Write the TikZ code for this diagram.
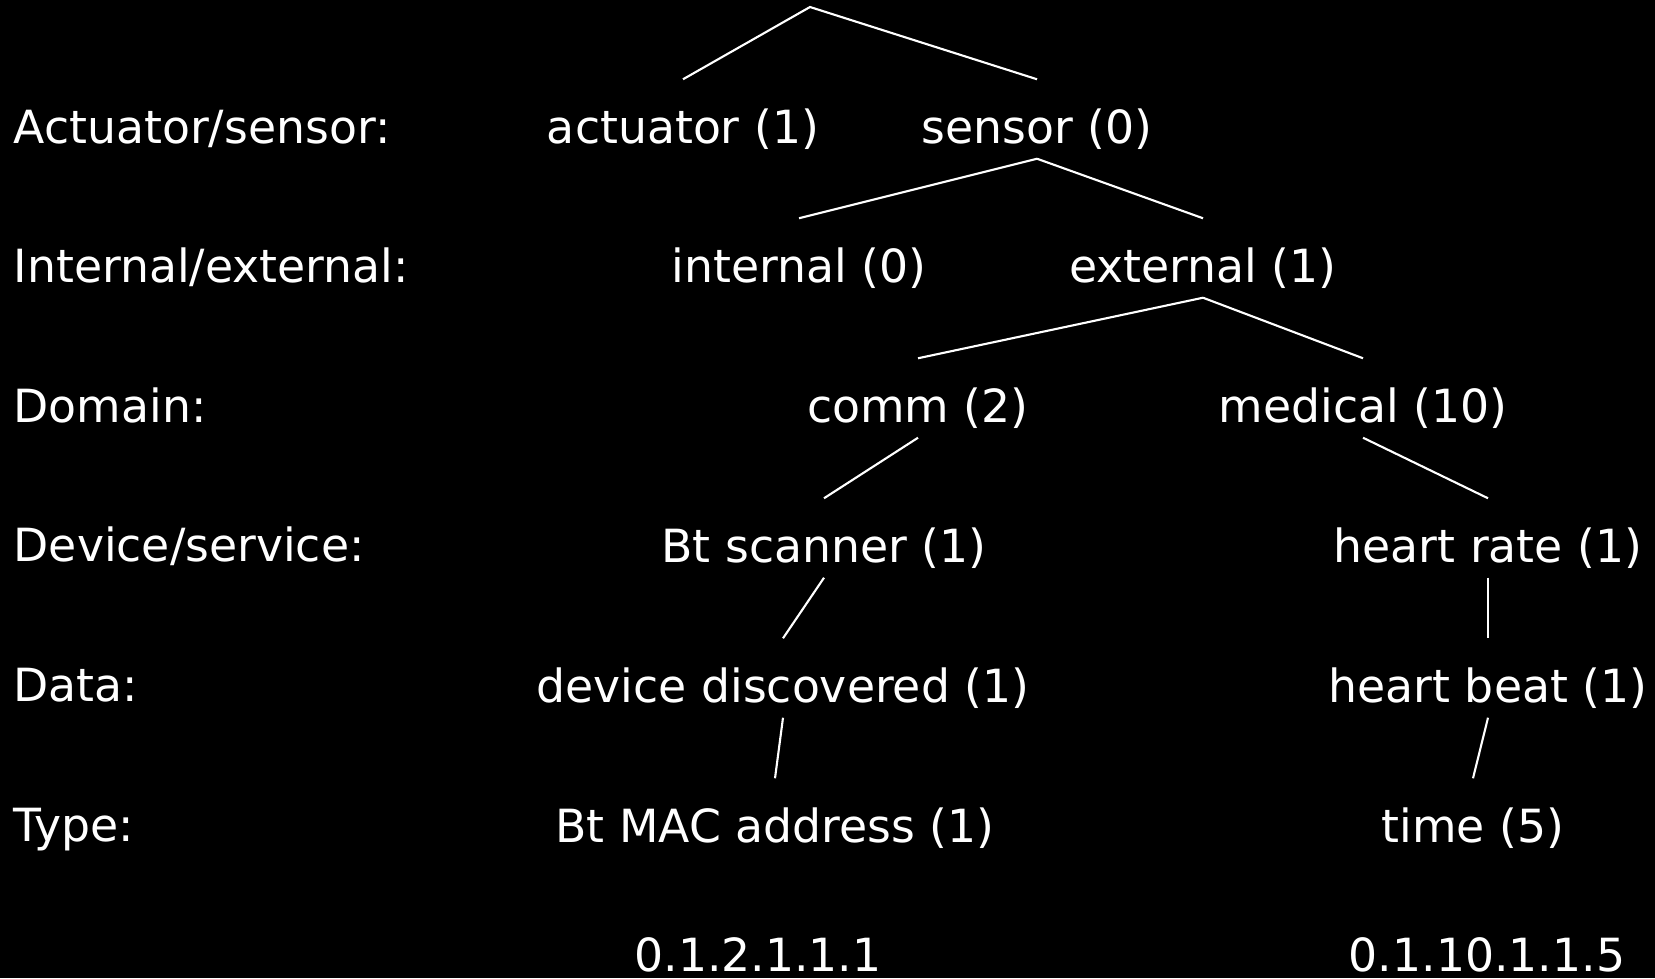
\documentclass[tikz,border=0pt]{standalone}
\usepackage{fontspec}
\setmainfont{DejaVu Sans}
\usetikzlibrary{positioning,backgrounds}

\begin{document}
\begin{tikzpicture}[x=0.01cm,y=-0.01cm,% pixel-like units, y going down
        every node/.style={text=white,font=\fontsize{13}{16}\selectfont},
        rowlabel/.style={anchor=base west,inner sep=0pt},% names of the levels
        leaf/.style={anchor=base,inner sep=0pt,text height=0.63cm,text depth=0.15cm},% north/south = line ends
        link/.style={draw=white,line width=0.6pt}]
\fill[black] (0,0) rectangle (1655,978);
\useasboundingbox (0,0) rectangle (1655,978);

\foreach[count=\xi] \x in {Actuator/sensor:,Internal/external:,Domain:,Device/service:,Data:,Type:}{ %\xi is the row
\node[rowlabel] (L-\xi) at (13,{143+139.6*(\xi-1)}) {\x};
}

\node[leaf] (act) at (683,143) {actuator (1)};
\node[leaf] (sen) at (1037,143) {sensor (0)};
\node[leaf] (int) at (799,282) {internal (0)};
\node[leaf] (ext) at (1203,282) {external (1)};
\node[leaf] (comm) at (918,422) {comm (2)};
\node[leaf] (med) at (1363,422) {medical (10)};
\node[leaf] (scan) at (824,562) {Bt scanner (1)};
\node[leaf] (rate) at (1488,562) {heart rate (1)};
\node[leaf] (disc) at (783,702) {device discovered (1)};
\node[leaf] (beat) at (1488,702) {heart beat (1)};
\node[leaf] (mac) at (775,842) {Bt MAC address (1)};
\node[leaf] (time) at (1473,842) {time (5)};
\node[leaf] (id-a) at (758,971) {0.1.2.1.1.1};
\node[leaf] (id-b) at (1487,971) {0.1.10.1.1.5};

\coordinate (top) at (810,7);
\draw[link] (act.north) -- (top) -- (sen.north);
\foreach \a/\b in {sen/int,sen/ext,ext/comm,ext/med,comm/scan,med/rate,scan/disc,rate/beat,disc/mac,beat/time}{
\draw[link] (\a.south) -- (\b.north);
}

\end{tikzpicture}
\end{document}
